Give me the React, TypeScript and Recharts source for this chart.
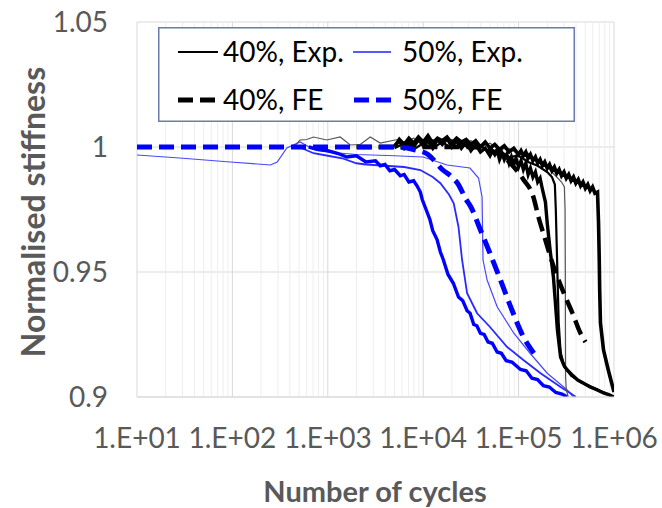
import { LineChart, Line, XAxis, YAxis, CartesianGrid, ReferenceLine, Legend } from "recharts";

// x ticks (cycles, log axis) and y ticks
const decades = [10, 100, 1000, 10000, 100000, 1000000];
const xLabels = ["1.E+01", "1.E+02", "1.E+03", "1.E+04", "1.E+05", "1.E+06"];
const yTicks = [0.9, 0.95, 1, 1.05];
const yLabels = ["0.9", "0.95", "1", "1.05"];
const minorTicks = decades.slice(0, 5).flatMap((d) => [2, 3, 4, 5, 6, 7, 8, 9].map((k) => k * d));

// 40%, Exp. specimens [cycles, normalised stiffness]
const exp40a = [
  [5012, 1.0005], [5623, 1.0025], [6310, 0.9995], [7079, 1.002], [7943, 1.0], [8913, 1.003], [10000, 1.0005],
  [11220, 1.0025], [12589, 0.9995], [14125, 1.003], [15849, 1.001], [17783, 1.0035], [19953, 1.0], [22387, 1.0025],
  [25119, 0.9995], [28184, 1.002], [31623, 0.9985], [35481, 1.001], [39811, 0.998], [44668, 0.9995], [50119, 0.9965],
  [53000, 0.9985], [56234, 0.997], [59500, 0.999], [63096, 0.995], [67000, 0.9975], [70795, 0.995], [75000, 0.997],
  [79433, 0.9935], [84000, 0.996], [89125, 0.993], [94000, 0.9955], [100000, 0.992], [106000, 0.9945],
  [112202, 0.991], [119000, 0.9935], [125893, 0.989], [133000, 0.9915], [141254, 0.988], [150000, 0.99],
  [158489, 0.986], [168000, 0.9875], [177828, 0.983], [190985, 0.978], [199526, 0.9696],
  [213796, 0.9588], [231739, 0.948], [243220, 0.9376], [255270, 0.9268], [275423, 0.916], [300000, 0.9125],
  [323594, 0.9108], [360000, 0.909], [416869, 0.9068], [480000, 0.9055], [562341, 0.904], [650000, 0.903],
  [776247, 0.9016], [880000, 0.901], [988553, 0.9],
];
const exp40b = [
  [5012, 0.9995], [6310, 1.0015], [7943, 0.999], [10000, 1.0015], [12589, 0.9995], [15849, 1.002], [19953, 0.9995],
  [25119, 1.0015], [31623, 0.999], [39811, 1.0005], [50119, 0.998], [63096, 0.9985], [79433, 0.996], [100000, 0.9965],
  [125893, 0.994], [158489, 0.9925], [199526, 0.99], [223872, 0.988], [239883, 0.985], [245471, 0.975],
  [251189, 0.96], [257040, 0.945], [263027, 0.93], [275423, 0.918], [301995, 0.912], [354813, 0.9085],
  [446684, 0.906], [630957, 0.9035], [870964, 0.901], [1000000, 0.9],
];
const exp40c = [
  [5012, 1.0], [5623, 1.003], [6310, 1.001], [7079, 1.0035], [7943, 1.0015], [8913, 1.004], [10000, 1.002],
  [11220, 1.0045], [12589, 1.0015], [14125, 1.0035], [15849, 1.0025], [17783, 1.004], [19953, 1.0015],
  [22387, 1.0035], [25119, 1.002], [28184, 1.003], [31623, 1.001], [35481, 1.0025], [39811, 1.0], [44668, 1.002],
  [50119, 0.9995], [56234, 1.001], [63096, 0.999], [70795, 1.0005], [79433, 0.998], [89125, 0.9995], [100000, 0.997],
  [106000, 0.9985], [112202, 0.9965], [119000, 0.998], [125893, 0.9955], [133000, 0.997], [141254, 0.9945],
  [150000, 0.996], [158489, 0.9935], [168000, 0.995], [177828, 0.9925], [188000, 0.994], [199526, 0.9915],
  [211000, 0.993], [223872, 0.9905], [237000, 0.992], [251189, 0.9895], [266000, 0.991], [281838, 0.9885],
  [299000, 0.99], [316228, 0.9875], [335000, 0.989], [354813, 0.9865], [376000, 0.988], [398107, 0.9855],
  [422000, 0.987], [446684, 0.9845], [473000, 0.986], [501187, 0.9835], [531000, 0.985], [562341, 0.9825],
  [596000, 0.984], [630957, 0.9815], [671429, 0.982], [688652, 0.9696], [699842, 0.956], [707946, 0.9428],
  [721107, 0.9296], [776247, 0.9188], [870964, 0.9108], [1000000, 0.902],
];
const exp40d = [
  [437, 1.0], [513, 1.0028], [603, 1.003], [708, 1.004], [977, 1.0028], [1349, 1.004], [1718, 1.0008],
  [2188, 1.001], [2786, 1.004], [3548, 1.0016], [5370, 1.003], [6310, 1.002], [7943, 1.0035], [10000, 1.001],
  [12589, 1.003], [15849, 1.0015], [19953, 1.003], [25119, 1.001], [31623, 1.0025], [39811, 1.0], [50119, 1.0015],
  [63096, 0.999], [79433, 0.9995], [100000, 0.997], [125893, 0.9975], [158489, 0.994], [199526, 0.992],
  [251189, 0.988], [281838, 0.986], [302000, 0.984], [307000, 0.975], [309000, 0.95], [310000, 0.925],
  [311000, 0.908], [316000, 0.903], [331000, 0.9],
];

// 50%, Exp. specimens
const exp50a = [
  [10, 0.9968], [28, 0.9956], [95, 0.994], [251, 0.9928], [295, 0.994], [372, 0.9996], [513, 1.002], [708, 0.999],
  [1000, 0.998], [1995, 0.997], [5012, 0.9965], [10000, 0.996], [17783, 0.9928], [30903, 0.9916], [38019, 0.9876],
  [41400, 0.98], [42364, 0.9548], [46774, 0.9468], [59566, 0.9361], [89125, 0.9255], [131826, 0.9175],
  [199526, 0.9095], [323594, 0.9028], [375837, 0.9],
];
const exp50b = [
  [501, 1.0], [708, 0.9975], [1000, 0.9965], [1413, 0.9955], [1995, 0.9935], [2512, 0.993], [3981, 0.9925],
  [6310, 0.992], [9333, 0.9908], [12589, 0.988], [15136, 0.9855], [18621, 0.981], [20893, 0.9775], [23442, 0.968],
  [25527, 0.955], [28840, 0.9415], [36728, 0.9335], [50119, 0.928], [75858, 0.92], [112202, 0.9148],
  [169824, 0.9095], [275423, 0.904], [346737, 0.9016], [398107, 0.9],
];
const exp50c = [
  [631, 1.0], [794, 0.999], [1000, 0.9985], [1259, 0.9975], [1585, 0.996], [1995, 0.9965], [2512, 0.994],
  [3162, 0.9945], [3548, 0.9925], [3981, 0.993], [4467, 0.9905], [5012, 0.991], [5754, 0.9885], [6310, 0.989],
  [7079, 0.986], [7943, 0.9865], [8610, 0.9845], [9333, 0.982], [9772, 0.979], [10471, 0.976], [11749, 0.971],
  [12589, 0.9665], [13964, 0.963], [15136, 0.958], [16218, 0.955], [18197, 0.949], [20701, 0.9455], [23442, 0.94],
  [26000, 0.9385], [28840, 0.9345], [31000, 0.9335], [33884, 0.929], [36500, 0.9285], [39811, 0.9255],
  [43500, 0.925], [47863, 0.922], [53000, 0.9215], [59566, 0.918], [66000, 0.9175], [74131, 0.9145],
  [85000, 0.914], [104713, 0.911], [120000, 0.9105], [138038, 0.9075], [158000, 0.907], [181970, 0.9045],
  [210000, 0.904], [245471, 0.9018], [285000, 0.9012], [323594, 0.9],
];

// FE predictions
const fe40 = [
  [1995, 1], [31623, 1], [63096, 0.997], [89125, 0.992], [112202, 0.987], [142889, 0.98], [161436, 0.972],
  [190985, 0.9628], [215774, 0.956], [255270, 0.948], [309742, 0.94], [366438, 0.9336], [444631, 0.9256],
  [502343, 0.922],
];
const fe50 = [
  [10, 1], [5012, 1], [7943, 0.999], [11220, 0.997], [15849, 0.991], [19953, 0.988], [22909, 0.9855],
  [28184, 0.979], [31623, 0.976], [39811, 0.9668], [50119, 0.9575], [64565, 0.9468], [85114, 0.9348],
  [112202, 0.9241], [144544, 0.9175],
];

const pts = (a: number[][]) => a.map(([n, v]) => ({ n, v }));

const axisText = "#595959";
const font = "Lato, 'Open Sans', sans-serif";

function LegendBox() {
  return (
    <svg width={417} height={95} style={{ display: "block", background: "#fff" }}>
      <rect x={0.75} y={0.75} width={415.5} height={93.5} fill="#fff" stroke="#6b7bab" strokeWidth={1.5} />
      <line x1={20} x2={60} y1={25} y2={25} stroke="#000" strokeWidth={2} />
      <text x={65} y={25} dy="0.35em" fontSize={28} fontFamily={font} fill="#000">40%, Exp.</text>
      <line x1={195} x2={233} y1={25} y2={25} stroke="#2020ff" strokeWidth={1.5} />
      <text x={244} y={25} dy="0.35em" fontSize={28} fontFamily={font} fill="#000">50%, Exp.</text>
      <line x1={20} x2={58} y1={73} y2={73} stroke="#000" strokeWidth={5} strokeDasharray="15 7" />
      <text x={65} y={73} dy="0.35em" fontSize={28} fontFamily={font} fill="#000">40%, FE</text>
      <line x1={196} x2={234} y1={73} y2={73} stroke="#0000ff" strokeWidth={5} strokeDasharray="15 7" />
      <text x={244} y={73} dy="0.35em" fontSize={28} fontFamily={font} fill="#000">50%, FE</text>
    </svg>
  );
}

export default function App() {
  const tick = { fill: axisText, fontSize: 28, fontFamily: font };
  return (
    <div style={{ position: "absolute", left: 0, top: 0, width: 662, height: 508, background: "#fff" }}>
      <LineChart width={662} height={508} margin={{ top: 22, right: 48, left: 0, bottom: 0 }}>
        <CartesianGrid stroke="#d9d9d9" strokeWidth={1} />
        {minorTicks.map((m) => (
          <ReferenceLine key={m} x={m} stroke="#eeeeee" strokeWidth={1} />
        ))}
        <XAxis
          dataKey="n"
          type="number"
          scale="log"
          domain={[10, 1000000]}
          ticks={decades}
          tickFormatter={(v: number) => xLabels[decades.indexOf(v)] ?? ""}
          tick={tick}
          tickLine={false}
          tickSize={0}
          tickMargin={31}
          axisLine={{ stroke: "#d9d9d9" }}
          height={111}
          allowDataOverflow
          interval={0}
        />
        <YAxis
          type="number"
          domain={[0.9, 1.05]}
          ticks={yTicks}
          tickFormatter={(v: number) => yLabels[yTicks.indexOf(v)] ?? ""}
          tick={tick}
          tickLine={false}
          tickSize={0}
          tickMargin={29}
          axisLine={false}
          width={137}
          allowDataOverflow
          interval={0}
        />
        <Legend
          layout="vertical"
          verticalAlign="middle"
          align="center"
          wrapperStyle={{ left: 158, top: 27, width: 417, height: 95 }}
          content={() => <LegendBox />}
        />
        <Line data={pts(exp50a)} dataKey="v" stroke="#4848ff" strokeWidth={1.2} dot={false} activeDot={false} isAnimationActive={false} />
        <Line data={pts(exp50b)} dataKey="v" stroke="#2a2aff" strokeWidth={1.8} dot={false} activeDot={false} isAnimationActive={false} />
        <Line data={pts(exp50c)} dataKey="v" stroke="#0000ff" strokeWidth={3.4} dot={false} activeDot={false} isAnimationActive={false} />
        <Line data={pts(exp40d)} dataKey="v" stroke="#555555" strokeWidth={1.2} dot={false} activeDot={false} isAnimationActive={false} />
        <Line data={pts(exp40a)} dataKey="v" stroke="#000" strokeWidth={3.4} dot={false} activeDot={false} isAnimationActive={false} />
        <Line data={pts(exp40b)} dataKey="v" stroke="#000" strokeWidth={2.2} dot={false} activeDot={false} isAnimationActive={false} />
        <Line data={pts(exp40c)} dataKey="v" stroke="#000" strokeWidth={3.6} dot={false} activeDot={false} isAnimationActive={false} />
        <Line data={pts(fe40)} dataKey="v" type="monotone" stroke="#000" strokeWidth={4.5} strokeDasharray="15 7" dot={false} activeDot={false} isAnimationActive={false} />
        <Line data={pts(fe50)} dataKey="v" type="monotone" stroke="#0000ff" strokeWidth={5} strokeDasharray="15 7" dot={false} activeDot={false} isAnimationActive={false} />
      </LineChart>
      <div
        style={{
          position: "absolute",
          left: 32,
          top: 212,
          transform: "translate(-50%, -50%) rotate(-90deg)",
          whiteSpace: "nowrap",
          fontFamily: font,
          fontWeight: 700,
          fontSize: 32,
          color: axisText,
        }}
      >
        Normalised stiffness
      </div>
      <div
        style={{
          position: "absolute",
          left: 375,
          top: 490,
          transform: "translate(-50%, -50%)",
          whiteSpace: "nowrap",
          fontFamily: font,
          fontWeight: 700,
          fontSize: 29,
          color: axisText,
        }}
      >
        Number of cycles
      </div>
    </div>
  );
}
